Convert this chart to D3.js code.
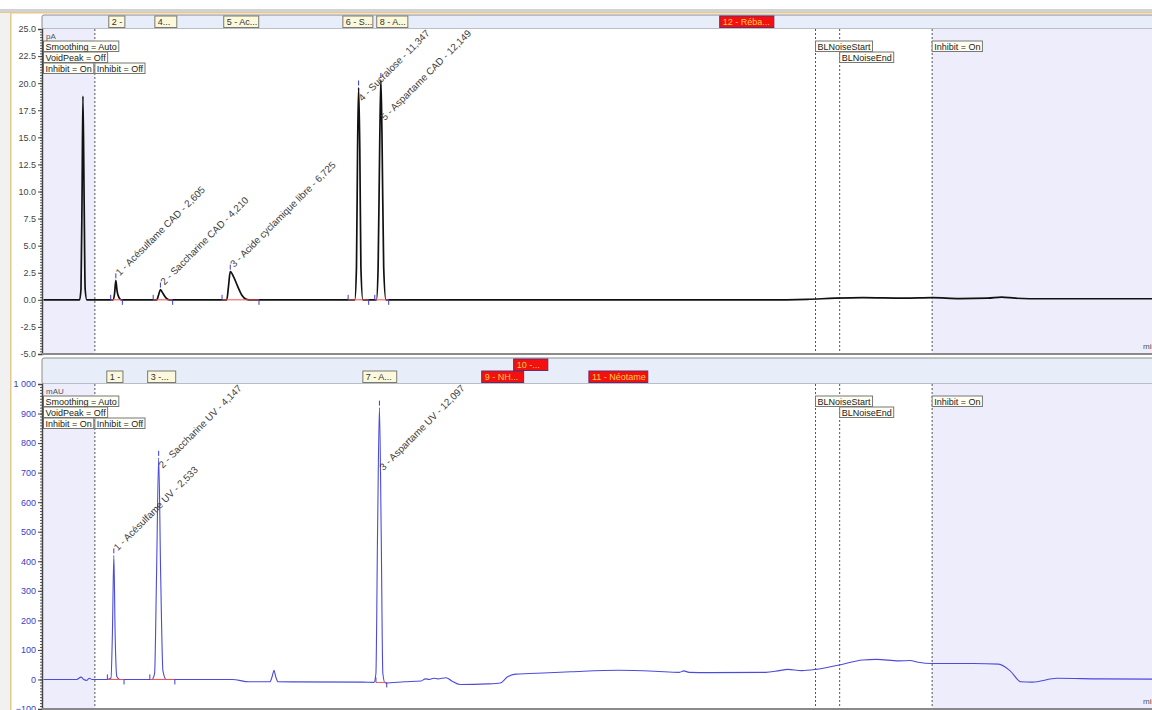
<!DOCTYPE html>
<html>
<head>
<meta charset="utf-8">
<script src="https://cdnjs.cloudflare.com/ajax/libs/d3/7.8.5/d3.min.js"></script>
<style>
  body { margin: 0; background: #fff; }
  svg { display: block; font-family: "Liberation Sans", Arial, sans-serif; }
</style>
</head>
<body>
<svg id="chart" width="1152" height="710"></svg>
<script>
// ---- data (time in min) ----
const topTrace = [
  [0,0],[1.3,0],[1.35,1],[1.39,10],[1.42,18.8],[1.46,10],[1.5,1],[1.56,0],
  [2.5,0],[2.56,0.6],[2.605,1.8],[2.65,0.8],[2.72,0.2],[2.8,0],
  [4.08,0],[4.15,0.5],[4.21,0.95],[4.3,0.6],[4.42,0.15],[4.52,0],
  [6.6,0],[6.66,1.2],[6.725,2.6],[6.85,2.1],[7.0,1.2],[7.15,0.4],[7.3,0.05],[7.4,0],
  [11.21,0],[11.27,3],[11.31,14],[11.347,19.6],[11.39,14],[11.43,3],[11.5,0],
  [11.99,0],[12.05,3],[12.11,15],[12.149,20.3],[12.19,15],[12.25,3],[12.33,0],
  [26,0],[27.5,0.05],[28.5,0.15],[29.5,0.2],[31,0.15],[32,0.2],[33,0.12],
  [34,0.15],[34.5,0.25],[35,0.15],[36,0.1],[40,0.1]
];
const bottomTrace = [
  [0,0],[1.2,0],[1.35,8],[1.45,0],[1.55,-3],[1.65,4],[1.75,0],[2.3,0],
  [2.43,5],[2.48,150],[2.533,420],[2.58,150],[2.64,10],[2.75,0],
  [3.9,0],[4.0,20],[4.07,350],[4.147,750],[4.22,350],[4.3,30],[4.42,0],
  [6.8,0],[7.4,-8],[8.15,-8],[8.25,15],[8.3,31],[8.36,10],[8.45,-8],[11.5,-9],[11.9,-10],
  [11.97,20],[12.03,500],[12.097,920],[12.16,500],[12.22,20],[12.3,-12],[13,-8],[13.6,-5],
  [13.75,2],[13.9,0],[14.05,4],[14.2,2],[14.5,6],[14.7,-5],[15.0,-17],[16.0,-15],[16.45,-12],
  [16.7,8],[17,18],[17.5,20],[19,26],[20.7,31],[22,28],[22.9,24],[23.05,29],[23.25,24],
  [24,23],[26.0,24],[26.5,30],[26.8,34],[27.3,30],[27.8,34],[28.7,50],[29.5,66],[30.0,68],
  [30.8,63],[31.2,64],[31.5,58],[32,54],[33.5,54],[34.4,52],[34.8,30],[35.2,-8],[35.6,-9],
  [36.5,4],[38,2],[40,1]
];

// name, retention time, apex height, start, end, baseline
const topPeaks = [
  ["1 - Acésulfame CAD - 2,605", 2.605, 1.8, 2.42, 2.84, 0],
  ["2 - Saccharine CAD - 4,210", 4.21, 0.95, 3.95, 4.65, 0],
  ["3 - Acide cyclamique libre - 6,725", 6.725, 2.6, 6.43, 7.76, 0],
  ["4 - Sucralose - 11,347", 11.347, 19.6, 10.97, 11.71, 0],
  ["5 - Aspartame CAD - 12,149", 12.149, 20.3, 11.93, 12.43, 0]
];
const bottomPeaks = [
  ["1 - Acésulfame UV - 2,533", 2.533, 420, 2.3, 2.9, 0],
  ["2 - Saccharine UV - 4,147", 4.147, 750, 3.83, 4.73, 0],
  ["3 - Aspartame UV - 12,097", 12.097, 920, 11.97, 12.36, -10]
];

// component windows in the header bar: label, from, to, row, missing?
const topFlags = [
  ["2 -", 2.35, 2.93, 0, false],
  ["4...", 4.01, 4.8, 0, false],
  ["5 - Ac...", 6.49, 7.75, 0, false],
  ["6 - S...", 10.78, 11.86, 0, false],
  ["8 - A...", 12.0, 13.12, 0, false],
  ["12 - Réba...", 24.35, 26.3, 0, true]
];
const bottomFlags = [
  ["1 -", 2.28, 2.86, 0, false],
  ["3 -...", 3.75, 4.76, 0, false],
  ["7 - A...", 11.5, 12.72, 0, false],
  ["9 - NH...", 15.78, 17.29, 0, true],
  ["10 -...", 16.93, 18.16, 1, true],
  ["11 - Néotame", 19.64, 21.76, 0, true]
];

// integration events: text, time, row
const events = [
  ["Smoothing = Auto", 0, 0],
  ["VoidPeak = Off", 0, 1],
  ["Inhibit = On", 0, 2],
  ["Inhibit = Off", 1.85, 2],
  ["BLNoiseStart", 27.8, 0],
  ["BLNoiseEnd", 28.67, 1],
  ["Inhibit = On", 32.0, 0]
];
const eventLines = [1.85, 27.8, 28.67, 32.0];
const inhibitRanges = [[0, 1.85], [32.0, 40]];

const topTicks = [25, 22.5, 20, 17.5, 15, 12.5, 10, 7.5, 5, 2.5, 0, -2.5, -5];
const bottomTicks = [1000, 900, 800, 700, 600, 500, 400, 300, 200, 100, 0, -100];

// ---- drawing ----
const svg = d3.select("#chart");
const W = 1152, H = 710, L = 42;
const x = d3.scaleLinear().domain([0, 40]).range([43.5, 1154.3]);

// window chrome
svg.append("rect").attr("x", 0).attr("y", 9).attr("width", W).attr("height", 3).attr("fill", "#d2d2d2");
svg.append("rect").attr("x", 0).attr("y", 12).attr("width", W).attr("height", 1.5).attr("fill", "#e6c890");
svg.append("rect").attr("x", 0).attr("y", 13).attr("width", 10).attr("height", H).attr("fill", "#f1f1f1");
svg.append("rect").attr("x", 10).attr("y", 13).attr("width", 1.5).attr("height", H).attr("fill", "#e6c890");

const panels = [
  { barTop: 15, barBot: 29, top: 29, bot: 354, dom: [-5, 25], ticks: topTicks, minor: 0.25,
    trace: topTrace, peaks: topPeaks, flags: topFlags, color: "#111", width: 1.7,
    tickColor: "#444", unit: "pA", fmt: d => d.toFixed(1) },
  { barTop: 358, barBot: 384, top: 384, bot: 709, dom: [-100, 1000], ticks: bottomTicks, minor: 10,
    trace: bottomTrace, peaks: bottomPeaks, flags: bottomFlags, color: "#4b4bdc", width: 1.1,
    tickColor: "#3c3cc8", unit: "mAU", fmt: d => d3.format(",")(d).replace(",", " ") }
];

panels.forEach((p, i) => {
  const g = svg.append("g");
  const y = d3.scaleLinear().domain(p.dom).range([p.bot, p.top]);
  const clipId = "clip" + i;
  svg.append("clipPath").attr("id", clipId).append("rect")
    .attr("x", L).attr("y", p.top).attr("width", W - L).attr("height", p.bot - p.top);

  // header bar with component windows
  g.append("rect").attr("x", L).attr("y", p.barTop).attr("width", W - L + 5)
    .attr("height", p.barBot - p.barTop).attr("rx", 2)
    .attr("fill", "#e7eef9").attr("stroke", "#8c8c8c");
  p.flags.forEach(f => {
    const fy = p.barBot - 13 - f[3] * 12;
    g.append("rect").attr("x", x(f[1])).attr("y", fy).attr("width", x(f[2]) - x(f[1])).attr("height", 11.5)
      .attr("fill", f[4] ? "#f21010" : "#fcf8dc").attr("stroke", f[4] ? "#6a2a6a" : "#7a7a70");
    g.append("text").attr("x", x(f[1]) + 3).attr("y", fy + 9).text(f[0])
      .attr("font-size", 9).attr("fill", f[4] ? "#ffd040" : "#333");
  });

  // plot area
  g.append("rect").attr("x", L).attr("y", p.top).attr("width", W - L).attr("height", p.bot - p.top).attr("fill", "#fff");
  inhibitRanges.forEach(r => {
    const x0 = Math.max(L, x(r[0]));
    g.append("rect").attr("x", x0).attr("y", p.top).attr("width", x(r[1]) - x0)
      .attr("height", p.bot - p.top).attr("fill", "#ededfc");
  });
  eventLines.forEach(t => {
    g.append("line").attr("x1", x(t)).attr("x2", x(t)).attr("y1", p.top).attr("y2", p.bot)
      .attr("stroke", "#555").attr("stroke-dasharray", "2,2");
  });

  const plot = g.append("g").attr("clip-path", `url(#${clipId})`);
  plot.append("path").datum(p.trace)
    .attr("d", d3.line().x(d => x(d[0])).y(d => y(d[1])).curve(d3.curveMonotoneX))
    .attr("fill", "none").attr("stroke", p.color).attr("stroke-width", p.width);

  // integration baselines and peak markers
  p.peaks.forEach(pk => {
    const yb = y(pk[5]);
    plot.append("line").attr("x1", x(pk[3])).attr("x2", x(pk[4])).attr("y1", yb).attr("y2", yb)
      .attr("stroke", "#f05050").attr("stroke-width", 1);
    plot.append("line").attr("x1", x(pk[3])).attr("x2", x(pk[3])).attr("y1", yb - 5).attr("y2", yb)
      .attr("stroke", "#3a3ad8");
    plot.append("line").attr("x1", x(pk[4])).attr("x2", x(pk[4])).attr("y1", yb).attr("y2", yb + 5)
      .attr("stroke", "#3a3ad8");
    plot.append("line").attr("x1", x(pk[1])).attr("x2", x(pk[1])).attr("y1", y(pk[2]) - 7).attr("y2", y(pk[2]) - 2)
      .attr("stroke", "#3a3ad8");
    const t = plot.append("text").text(pk[0]).attr("font-size", 9.8).attr("fill", "#3a3a3a");
    const len = t.node().getComputedTextLength();
    const ly = Math.max(y(pk[2]) - 4, p.top + len * Math.SQRT1_2 + 5);
    t.attr("transform", `translate(${x(pk[1]) + 4},${ly}) rotate(-45)`);
  });

  // event boxes
  events.forEach(e => {
    const ex = Math.max(L, x(e[1]));
    const ey = p.top + 12 + e[2] * 11;
    const box = g.append("rect").attr("x", ex).attr("y", ey).attr("height", 10.5)
      .attr("fill", "#fffef4").attr("stroke", "#777");
    const t = g.append("text").attr("x", ex + 2).attr("y", ey + 8.5).text(e[0])
      .attr("font-size", 9).attr("fill", "#222");
    box.attr("width", t.node().getComputedTextLength() + 4);
  });

  g.append("text").attr("x", L + 4).attr("y", p.top + 10).text(p.unit)
    .attr("font-size", 8).attr("fill", "#555");
  g.append("text").attr("x", 1143).attr("y", p.bot - 5).text("min")
    .attr("font-size", 8).attr("fill", "#555");

  // y axis
  const minorVals = d3.range(p.dom[0], p.dom[1] + p.minor / 2, p.minor);
  const minorAx = g.append("g").attr("transform", `translate(${L},0)`)
    .call(d3.axisLeft(y).tickValues(minorVals).tickSize(2).tickFormat(""));
  minorAx.select(".domain").remove();
  minorAx.selectAll("line").attr("stroke", "#555");
  const ax = g.append("g").attr("transform", `translate(${L},0)`)
    .call(d3.axisLeft(y).tickValues(p.ticks).tickSize(4).tickPadding(2).tickFormat(p.fmt));
  ax.select(".domain").attr("stroke", "#444").attr("stroke-width", 1.5);
  ax.selectAll("line").attr("stroke", "#444");
  ax.selectAll("text").attr("font-size", 9).attr("fill", p.tickColor)
    .attr("font-family", "Liberation Sans, Arial, sans-serif");

  // bottom frame of the panel
  g.append("line").attr("x1", L).attr("x2", W).attr("y1", p.bot).attr("y2", p.bot)
    .attr("stroke", "#8a8a8a").attr("stroke-width", 2);
});
</script>
</body>
</html>
